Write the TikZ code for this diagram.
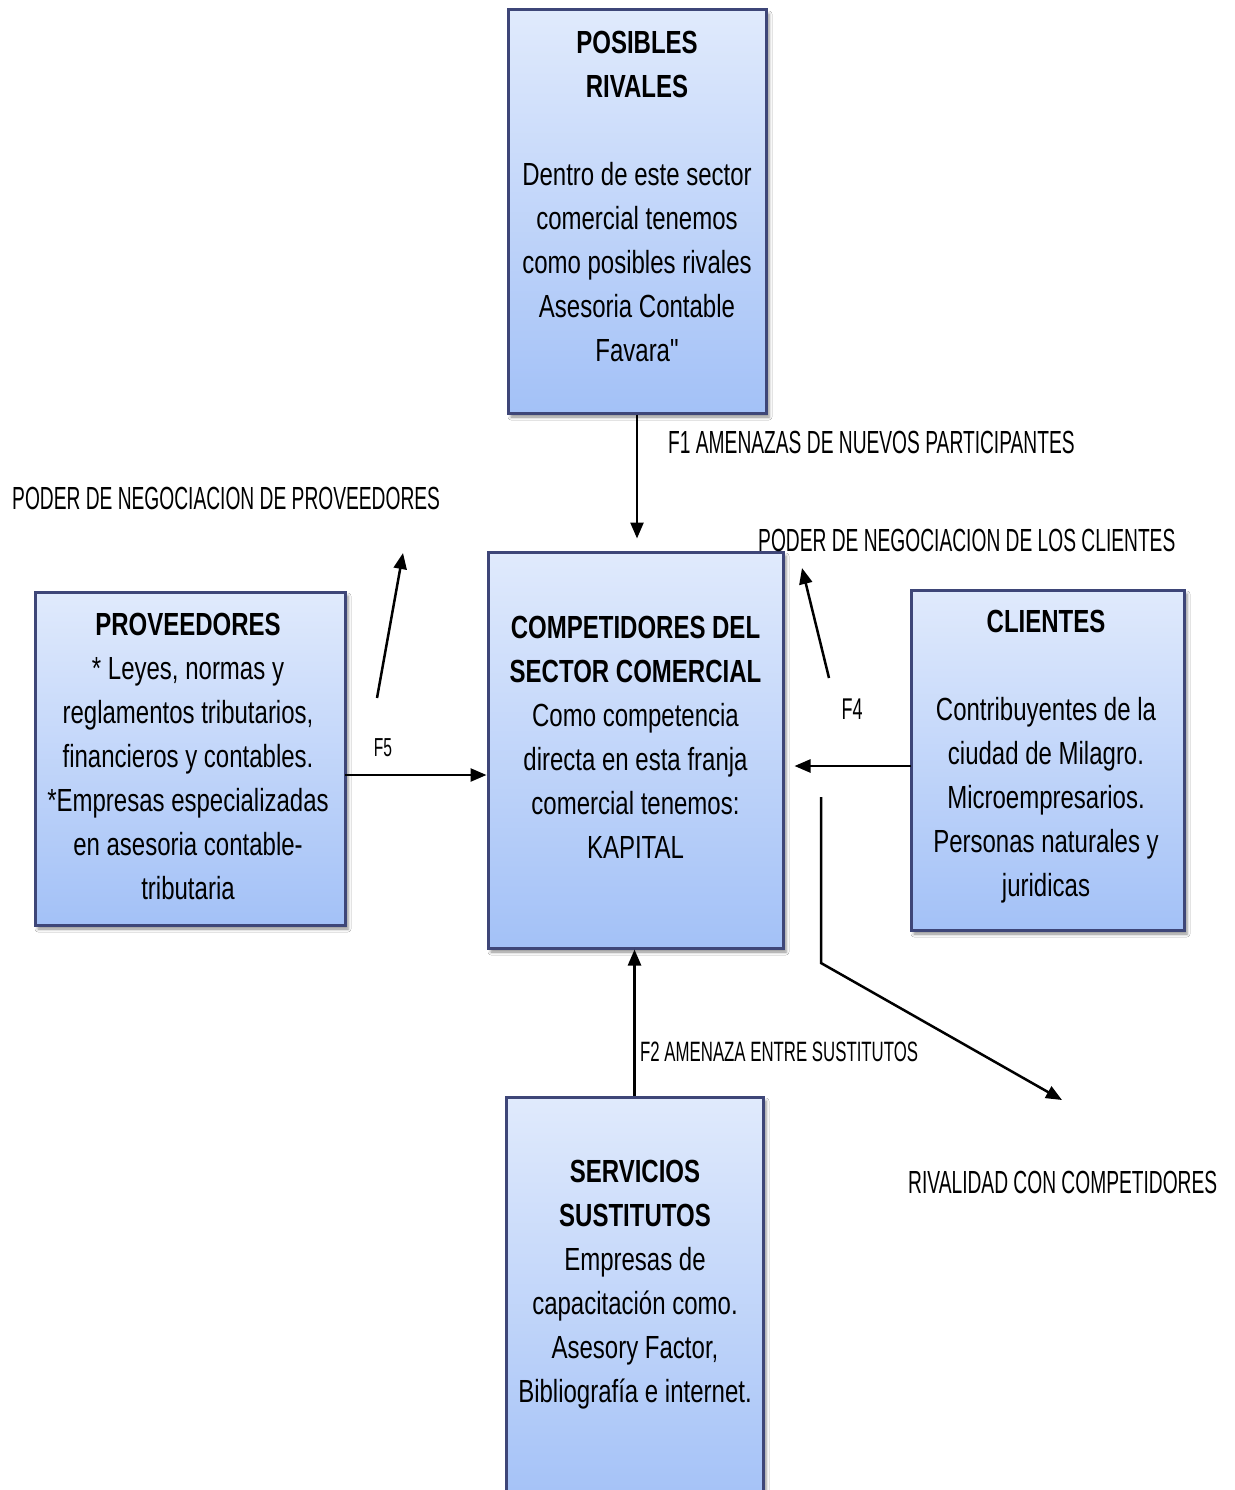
\documentclass[tikz,border=0pt]{standalone}
\usepackage{fontspec}
\setmainfont{Liberation Sans}[FakeStretch=0.75,Ligatures=TeXOff]
\newfontfamily\lblfont{Liberation Sans}[FakeStretch=0.6]
\usetikzlibrary{arrows.meta,shadows.blur}
\definecolor{bordercol}{HTML}{3E4678}
\definecolor{topcol}{HTML}{E0EAFC}
\definecolor{botcol}{HTML}{A3C1F7}
\tikzset{
 box/.style={rectangle, draw=bordercol, line width=3pt, top color=topcol, bottom color=botcol,
   blur shadow={shadow xshift=3pt, shadow yshift=-4pt, shadow blur radius=3pt, shadow opacity=45}, inner sep=0pt},
 boxtext/.style={align=center, inner sep=0pt, font=\fontsize{32}{44}\selectfont},
 lbl/.style={inner sep=0pt, anchor=west, font=\lblfont\fontsize{32}{38}\selectfont},
 arr/.style={line width=2.5pt, -{Triangle[length=16pt,width=13pt]}},
}
\begin{document}
\begin{tikzpicture}[x=1pt,y=-1pt]
\useasboundingbox[fill=white] (0,0) rectangle (1234,1490);
% boxes
\node[box, minimum width=258pt, minimum height=403pt] (riv) at (637,211.5) {};
\node[box, minimum width=295pt, minimum height=396pt] (comp) at (635.5,750) {};
\node[box, minimum width=310pt, minimum height=333pt] (pro) at (190,758.5) {};
\node[box, minimum width=273pt, minimum height=340pt] (cli) at (1047.5,760) {};
\node[box, minimum width=257pt, minimum height=413pt] (sus) at (634.5,1303.5) {};
% box texts
\node[boxtext] (rivt) at (637,196) {\textbf{POSIBLES}\\\textbf{RIVALES}\\[44pt]Dentro de este sector\\comercial tenemos\\como posibles rivales\\Asesoria Contable\\Favara"};
\node[boxtext] (compt) at (635.5,737.5) {\textbf{COMPETIDORES DEL}\\\textbf{SECTOR COMERCIAL}\\Como competencia\\directa en esta franja\\comercial tenemos:\\KAPITAL};
\node[boxtext] (prot) at (188,756) {\textbf{PROVEEDORES}\\* Leyes, normas y\\reglamentos tributarios,\\financieros y contables.\\*Empresas especializadas\\en asesoria contable-\\tributaria};
\node[boxtext] (clit) at (1046,757) {\textbf{CLIENTES}\\[44pt]Contribuyentes de la\\ciudad de Milagro.\\Microempresarios.\\Personas naturales y\\juridicas};
\node[boxtext] (sust) at (635,1285) {\textbf{SERVICIOS}\\\textbf{SUSTITUTOS}\\Empresas de\\capacitación como.\\Asesory Factor,\\Bibliografía e internet.};
% coordinates
\coordinate (f5s) at (345,775);
\coordinate (f4s) at (911,766);
\coordinate (pp1) at (377,698);
\coordinate (pp2) at (403,553);
\coordinate (pc1) at (829,678);
\coordinate (pc2) at (802,568);
\coordinate (r1) at (821,797);
\coordinate (r2) at (821,963);
\coordinate (r3) at (1062,1100);
% connectors
\draw[arr] (riv.south) -- ([yshift=12pt]riv.south |- comp.north);
\draw[arr] (f5s) -- (f5s -| comp.west);
\draw[arr] (f4s) -- ([xshift=10pt]f4s -| comp.east);
\draw[arr] (sus.north) -- (sus.north |- comp.south);
\draw[arr] (pp1) -- (pp2);
\draw[arr] (pc1) -- (pc2);
\draw[arr] (r1) -- (r2) -- (r3);
% labels
\node[lbl] (lf1) at (668,442) {F1 AMENAZAS DE NUEVOS PARTICIPANTES};
\node[lbl] (lpp) at (12,498) {PODER DE NEGOCIACION DE PROVEEDORES};
\node[lbl] (lpc) at (758,540) {PODER DE NEGOCIACION DE LOS CLIENTES};
\node[lbl, anchor=center, font=\lblfont\fontsize{26}{30}\selectfont] (lf5) at (383,748) {F5};
\node[lbl, anchor=center, font=\lblfont\fontsize{30}{34}\selectfont] (lf4) at (852,709) {F4};
\node[lbl, font=\lblfont\fontsize{28}{32}\selectfont] (lf2) at (640,1052) {F2 AMENAZA ENTRE SUSTITUTOS};
\node[lbl] (lriv) at (908,1182) {RIVALIDAD CON COMPETIDORES};
\end{tikzpicture}
\end{document}
